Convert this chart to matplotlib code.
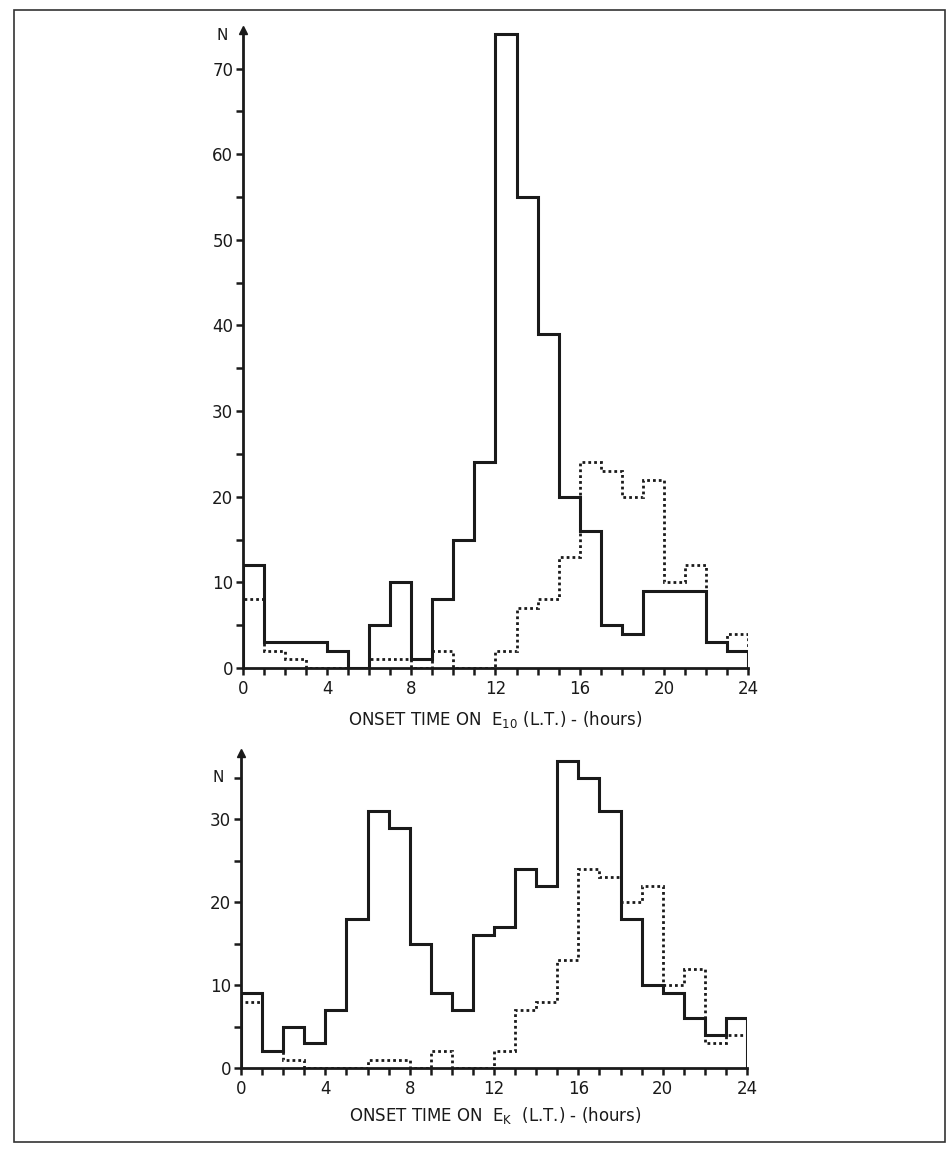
import numpy as np
import matplotlib
matplotlib.use("Agg")
import matplotlib.pyplot as plt
from matplotlib.patches import Rectangle

# hourly bins, 0..24 h local time
hours = np.arange(0, 25)

# onset counts on E10 (solid) and on EK (solid), common dotted reference
e10_counts = [12, 3, 3, 3, 2, 0, 5, 10, 1, 8, 15, 24,
              74, 55, 39, 20, 16, 5, 4, 9, 9, 9, 3, 2]
ek_counts = [9, 2, 5, 3, 7, 18, 31, 29, 15, 9, 7, 16,
             17, 24, 22, 37, 35, 31, 18, 10, 9, 6, 4, 6]
ref_counts = [8, 2, 1, 0, 0, 0, 1, 1, 0, 2, 0, 0,
              2, 7, 8, 13, 24, 23, 20, 22, 10, 12, 3, 4]

xticks = [0, 4, 8, 12, 16, 20, 24]
ink = "#1a1a1a"

W, H = 950, 1149
fig = plt.figure(figsize=(W / 100, H / 100), dpi=100)
fig.patch.set_facecolor("white")


def px_axes(x0, x1, y0, y1):
    # pixel box -> figure fraction
    return fig.add_axes([x0 / W, 1 - y1 / H, (x1 - x0) / W, (y1 - y0) / H])


def style(ax, ymax, ymajor, xlabel, label_y):
    ax.set_xlim(0, 24)
    ax.set_ylim(0, ymax)
    for s in ("top", "right"):
        ax.spines[s].set_visible(False)
    for s in ("left", "bottom"):
        ax.spines[s].set_linewidth(2.0)
        ax.spines[s].set_color(ink)
    ax.set_xticks(xticks)
    ax.set_xticks(np.arange(0, 25), minor=True)
    ax.set_yticks(np.arange(0, ymax, ymajor))
    ax.set_yticks(np.arange(0, ymax, ymajor / 2), minor=True)
    ax.tick_params(which="both", direction="out", length=5, width=1.8,
                   color=ink, labelsize=12, labelcolor=ink, pad=2)
    ax.tick_params(axis="x", which="both", pad=4)
    ax.plot(0, 1, marker="^", color=ink, markersize=6,
            transform=ax.transAxes, clip_on=False)
    fig.text(495 / W, 1 - label_y / H, xlabel, ha="center", va="center",
             fontsize=12, color=ink)


ax1 = px_axes(243, 748, 30, 668)
ax1.stairs(ref_counts, hours, color=ink, lw=2.0, ls=(0, (1, 1.1)), zorder=2)
ax1.stairs(e10_counts, hours, color=ink, lw=2.2, zorder=3)
style(ax1, 74.5, 10, r"ONSET TIME ON  E$_{\mathregular{10}}$ (L.T.) - (hours)", 720)
fig.text(222 / W, 1 - 35 / H, "N", ha="center", va="center", fontsize=11, color=ink)

ax2 = px_axes(241, 747, 753, 1068)
ax2.stairs(ref_counts, hours, color=ink, lw=2.0, ls=(0, (1, 1.1)), zorder=2)
ax2.stairs(ek_counts, hours, color=ink, lw=2.2, zorder=3)
style(ax2, 38, 10, r"ONSET TIME ON  E$_{\mathregular{K}}$  (L.T.) - (hours)", 1115)
fig.text(218 / W, 1 - 778 / H, "N", ha="center", va="center", fontsize=11, color=ink)

# outer frame
fig.patches.append(Rectangle((14 / W, 1 - 1142 / H), 931 / W, 1132 / H,
                             transform=fig.transFigure, fill=False,
                             edgecolor="#333333", lw=1.2))

fig.savefig("out.png", dpi=100)
